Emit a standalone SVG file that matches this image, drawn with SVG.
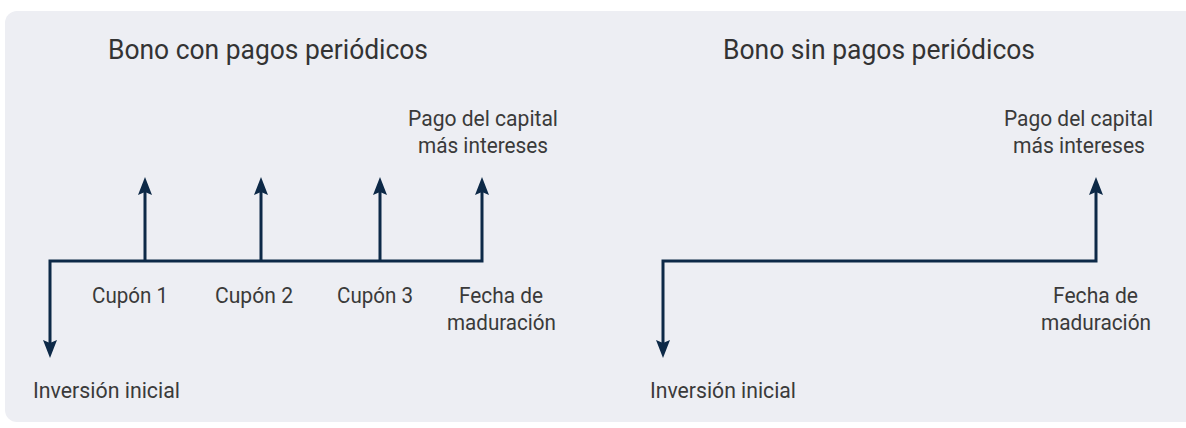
<svg xmlns="http://www.w3.org/2000/svg" width="1186" height="428" viewBox="0 0 1186 428">
  <style>
    .t { font-family: Roboto, "Liberation Sans", sans-serif; fill: #3a3a3a; }
    .lbl { font-size: 22.5px; }
    .ttl { font-size: 28.5px; fill: #333333; }
    .ln { fill: none; stroke: #0d2947; stroke-width: 3; stroke-linejoin: miter; }
  </style>
  <defs>
    <marker id="ah" viewBox="0 0 18 14" refX="6" refY="7" markerWidth="18" markerHeight="14" markerUnits="userSpaceOnUse" orient="auto-start-reverse">
      <path d="M0,0 L18,7 L0,14 L3,7 Z" fill="#0d2947"/>
    </marker>
  </defs>
  <rect x="5" y="11" width="1200" height="411" rx="12" fill="#edeef3"/>

  <g id="connectors">
    <path class="ln" d="M50,346 V261 H482 V189" marker-start="url(#ah)" marker-end="url(#ah)"/>
    <path class="ln" d="M145,261 V189" marker-end="url(#ah)"/>
    <path class="ln" d="M261,261 V189" marker-end="url(#ah)"/>
    <path class="ln" d="M380,261 V189" marker-end="url(#ah)"/>
    <path class="ln" d="M663,346 V261 H1096 V189" marker-start="url(#ah)" marker-end="url(#ah)"/>
  </g>

  <g id="title-left"><text class="t ttl" x="108" y="59" textLength="320" lengthAdjust="spacingAndGlyphs">Bono con pagos periódicos</text></g>
  <g id="title-right"><text class="t ttl" x="723" y="59" textLength="312" lengthAdjust="spacingAndGlyphs">Bono sin pagos periódicos</text></g>

  <g id="pago-left">
    <text class="t lbl" x="408" y="126" textLength="150" lengthAdjust="spacingAndGlyphs">Pago del capital</text>
    <text class="t lbl" x="418" y="153" textLength="130" lengthAdjust="spacingAndGlyphs">más intereses</text>
  </g>
  <g id="cupon1"><text class="t lbl" x="92" y="303" textLength="76" lengthAdjust="spacingAndGlyphs">Cupón 1</text></g>
  <g id="cupon2"><text class="t lbl" x="215" y="303" textLength="78" lengthAdjust="spacingAndGlyphs">Cupón 2</text></g>
  <g id="cupon3"><text class="t lbl" x="337" y="303" textLength="76" lengthAdjust="spacingAndGlyphs">Cupón 3</text></g>
  <g id="fecha-left">
    <text class="t lbl" x="459" y="303" textLength="84" lengthAdjust="spacingAndGlyphs">Fecha de</text>
    <text class="t lbl" x="447" y="330" textLength="109" lengthAdjust="spacingAndGlyphs">maduración</text>
  </g>
  <g id="inversion-left"><text class="t lbl" x="33" y="398" textLength="147" lengthAdjust="spacingAndGlyphs">Inversión inicial</text></g>

  <g id="pago-right">
    <text class="t lbl" x="1004" y="126" textLength="149" lengthAdjust="spacingAndGlyphs">Pago del capital</text>
    <text class="t lbl" x="1013" y="153" textLength="132" lengthAdjust="spacingAndGlyphs">más intereses</text>
  </g>
  <g id="fecha-right">
    <text class="t lbl" x="1053" y="303" textLength="85" lengthAdjust="spacingAndGlyphs">Fecha de</text>
    <text class="t lbl" x="1041" y="330" textLength="110" lengthAdjust="spacingAndGlyphs">maduración</text>
  </g>
  <g id="inversion-right"><text class="t lbl" x="650" y="398" textLength="146" lengthAdjust="spacingAndGlyphs">Inversión inicial</text></g>
</svg>
